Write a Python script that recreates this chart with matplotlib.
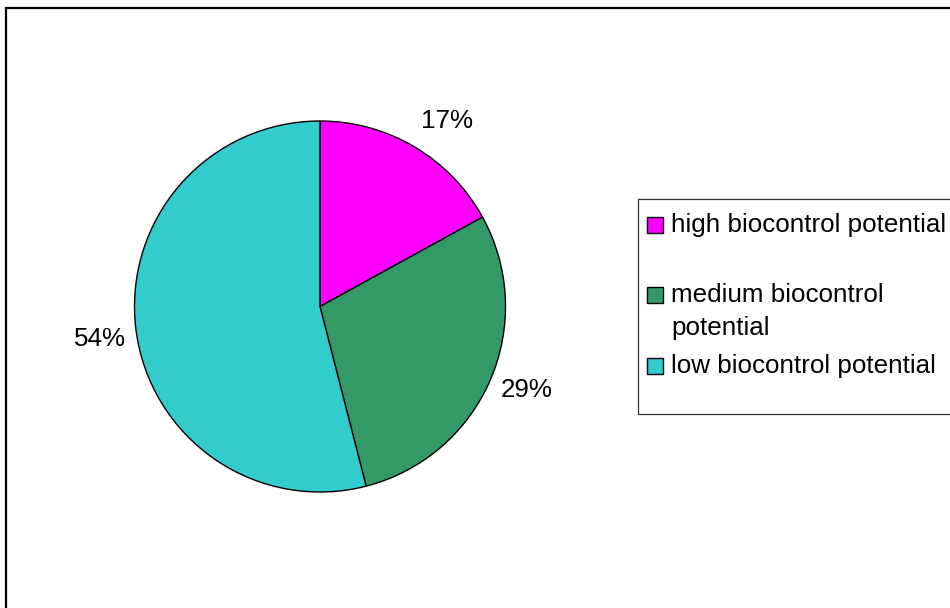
import matplotlib
matplotlib.use("Agg")
import matplotlib.pyplot as plt
import matplotlib.patches as mpatches

# data
labels = ["high biocontrol potential", "medium biocontrol\npotential", "low biocontrol potential"]
shares = [17, 29, 54]
colors = ["#FF00FF", "#339966", "#33CCCC"]

plt.rcParams["font.family"] = ["Liberation Sans", "DejaVu Sans"]
FS = 18.7

W, H = 950, 608
fig = plt.figure(figsize=(W / 100, H / 100), dpi=100)

# pie centred at (320, 306.5) px, radius ~185.5 px (axes spans 2.5 radii)
r_px = 185.5
side = 2.5 * r_px
cx, cy = 320, H - 306.5
ax = fig.add_axes([(cx - side / 2) / W, (cy - side / 2) / H, side / W, side / H])

wedges, texts, autotexts = ax.pie(
    shares,
    colors=colors,
    startangle=90,
    counterclock=False,
    autopct="%1.0f%%",
    pctdistance=1.2,
    wedgeprops=dict(edgecolor="black", linewidth=1.0),
    textprops=dict(fontsize=FS, color="black"),
)
ax.set_aspect("equal")

# Excel-style label placement (radius units), nudged from the radial default
label_pos = [(0.685, 0.962), (1.116, -0.487), (-1.186, -0.212)]
for t, (x, y) in zip(autotexts, label_pos):
    t.set_position((x, y))
    t.set_va("baseline")

# outer chart border (right/bottom edges fall outside the image)
fig.add_artist(mpatches.Rectangle(
    (6 / W, -0.1), 1.2, (H - 7.5) / H + 0.1,
    transform=fig.transFigure, fill=False, edgecolor="black", linewidth=1.6))

# legend box drawn by hand to follow the reference spacing
fig.add_artist(mpatches.Rectangle(
    (638 / W, (H - 414) / H), 0.5, (414 - 199) / H,
    transform=fig.transFigure, fill=False, edgecolor="#333333", linewidth=0.9))

entry_base = [232, 302, 373]
line_step = 33
for lab, col, base in zip(labels, colors, entry_base):
    fig.add_artist(mpatches.Rectangle(
        (647 / W, (H - base - 1) / H), 16 / W, 16 / H,
        transform=fig.transFigure, facecolor=col, edgecolor="black", linewidth=1.0))
    for k, line in enumerate(lab.split("\n")):
        fig.text(671 / W, (H - base - k * line_step) / H, line, fontsize=FS,
                 va="baseline", ha="left", color="black")

fig.savefig("out.png", dpi=100)
